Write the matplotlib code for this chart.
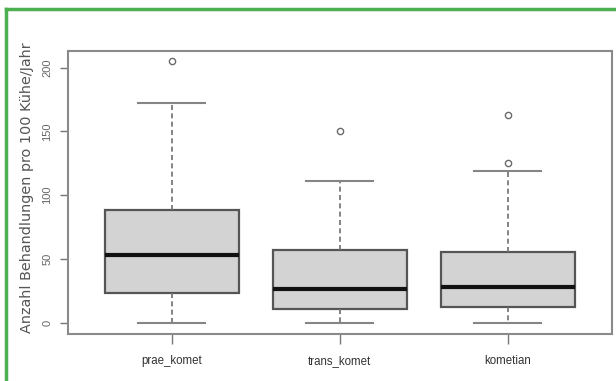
import matplotlib
matplotlib.use("Agg")
import matplotlib.pyplot as plt
from matplotlib.lines import Line2D

categories = ["prae_komet", "trans_komet", "kometian"]
whislo = [0, 0, 0]
q1 = [23, 10.5, 12]
med = [53, 26.2, 28.2]
q3 = [88, 57.3, 55.5]
whishi = [172.5, 110.8, 119]
fliers = [[205], [150.5], [162.5, 125.5]]
yticks = [0, 50, 100, 150, 200]
ylabel = "Anzahl Behandlungen pro 100 K\u00fche/Jahr"

W, H = 616, 381
fig = plt.figure(figsize=(W / 100, H / 100), dpi=100)
fig.patch.set_facecolor("white")

ax = fig.add_axes([67.6 / W, 1 - 334 / H, (612 - 67.6) / W, (334 - 50.7) / H])

stats = []
for i, c in enumerate(categories):
    stats.append(dict(label=c, whislo=whislo[i], q1=q1[i], med=med[i],
                      q3=q3[i], whishi=whishi[i], fliers=fliers[i]))

ax.bxp(stats, positions=[1, 2, 3], widths=0.8, patch_artist=True,
       boxprops=dict(facecolor="#d3d3d3", edgecolor="#555555", linewidth=1.6),
       medianprops=dict(color="#111111", linewidth=3),
       whiskerprops=dict(color="#707070", linewidth=1.2, linestyle=(0, (3, 2))),
       capprops=dict(color="#858585", linewidth=1.5),
       capwidths=0.4,
       flierprops=dict(marker="o", markersize=4.5, markerfacecolor="none",
                       markeredgecolor="#6a6a6a", markeredgewidth=1.0))

ax.set_xlim(0.38, 3.62)
ax.set_ylim(-8.9, 213.3)
ax.set_yticks(yticks)
ax.set_yticklabels([str(v) for v in yticks], rotation=90, va="center",
                   fontsize=8, color="#666666", family="Liberation Sans")
ax.set_xticks([1, 2, 3])
ax.set_xticklabels(categories, fontsize=8.3, color="#333333", family="Liberation Sans")
ax.tick_params(axis="y", length=6, width=1, color="#777777", pad=5)
ax.tick_params(axis="x", length=7, width=1, color="#777777", pad=8)
for s in ax.spines.values():
    s.set_color("#8a8a8a")
    s.set_linewidth(1.5)

fig.text(27 / W, 1 - 188 / H, ylabel, rotation=90, ha="center", va="center",
         fontsize=10.4, color="#555555", family="DejaVu Sans")

# green frame
fig.add_artist(Line2D([5.5 / W, 1], [1 - 9 / H, 1 - 9 / H], transform=fig.transFigure,
                      color="#4caf50", linewidth=2.5))
fig.add_artist(Line2D([6 / W, 6 / W], [0, 1 - 9 / H], transform=fig.transFigure,
                      color="#4caf50", linewidth=2.5))

fig.savefig("out.png", dpi=100)
